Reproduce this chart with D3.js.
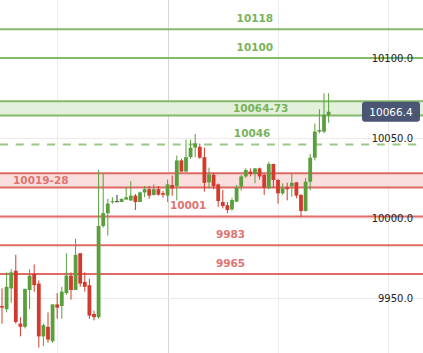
<!DOCTYPE html>
<html>
<head>
<meta charset="utf-8">
<script src="https://cdn.jsdelivr.net/npm/d3@7/dist/d3.min.js"></script>
<style>
  html, body { margin: 0; padding: 0; background: #ffffff; }
  svg { display: block; }
</style>
</head>
<body>
<svg id="chart" width="423" height="353"></svg>
<script>
// ---- OHLC series (one entry per candle, oldest first) ----
const opens  = [9945, 9943, 9956, 9967, 9934, 9932, 9955, 9965, 9959, 9926,
                9932, 9923, 9946, 9945, 9953, 9964, 9955, 9978, 9960, 9958,
                9940, 9938, 9995, 10003, 10010, 10010.5, 10010, 10011.5, 10011, 10014,
                10010, 10016, 10018, 10014.4, 10018, 10015.5, 10014, 10020.6, 10020, 10036,
                10029, 10038, 10044, 10044.5, 10038, 10022.3, 10027, 10021, 10010, 10008,
                10005.4, 10010.2, 10019.6, 10026, 10029, 10027.5, 10031, 10027, 10018.6, 10033.75,
                10023.75, 10015.4, 10019, 10020, 10022.3, 10014.4, 10004.4, 10022.7, 10037.7, 10054,
                10054, 10064.4];
const highs  = [9956, 9966, 9968, 9977, 9938, 9956, 9968, 9971, 9961, 9934,
                9941, 9946, 9953, 9957, 9978, 9966, 9987, 9978, 9966, 9962,
                9942, 10030, 10028, 10012, 10013, 10014.4, 10012, 10019, 10023, 10015,
                10016.5, 10020, 10020, 10021, 10020, 10017, 10024, 10026.5, 10039, 10037,
                10049, 10049, 10052.5, 10046.5, 10044, 10031.5, 10028, 10021.5, 10017.5, 10010,
                10012.7, 10020.6, 10027, 10031, 10031, 10031.2, 10031.5, 10027.5, 10035.2, 10034,
                10024.4, 10021.7, 10022, 10028, 10022.5, 10015, 10025, 10040, 10059, 10068,
                10078, 10078];
const lows   = [9934, 9941, 9947, 9934, 9926, 9931, 9943, 9954, 9919, 9920,
                9922, 9922, 9937, 9937, 9952, 9949, 9955, 9957, 9954, 9937,
                9936, 9937, 9994, 9989, 10009, 10010.3, 10010, 10011.5, 10010.6, 10005,
                10010, 10013, 10012, 10014, 10014, 10012.7, 10010, 10014, 10011, 10029,
                10029, 10037, 10038, 10037, 10016.5, 10018.5, 10018, 10007, 10006, 10003,
                10004.6, 10010, 10017, 10025, 10026, 10021.7, 10024, 10014.4, 10018, 10019,
                10009, 10014.4, 10011, 10013.3, 10012.3, 10000.8, 10004, 10017.5, 10036, 10053,
                10053, 10059.6];
const closes = [9944, 9957, 9966, 9935, 9932, 9955.6, 9964, 9958, 9926, 9933,
                9924, 9946, 9944, 9954, 9964, 9955, 9977, 9959, 9957, 9939,
                9938, 9995, 10003, 10009, 10010.5, 10010.5, 10012, 10013, 10014, 10010,
                10016, 10018, 10014, 10018, 10014.6, 10014.5, 10021, 10018.5, 10036, 10029,
                10038, 10044, 10046.7, 10037.7, 10022, 10027.3, 10020, 10010.6, 10007.5, 10005,
                10011.25, 10019.2, 10026, 10030, 10027.5, 10031, 10026, 10019, 10033.75, 10023.75,
                10015.4, 10018.6, 10018, 10022, 10014, 10004.4, 10022.7, 10037.7, 10054, 10055,
                10064.4, 10066.4];

// ---- price axis ----
const priceTicks = [9950, 10000, 10050, 10100];
const gridCandles = [12, 36, 60, 84];   // candle slots that carry a vertical grid line
const lastPrice = 10066.4;

// ---- key levels (single price when low == high, otherwise a zone) ----
const levelNames = ["10118", "10100", "10064-73", "10046", "10019-28", "10001", "9983", "9965"];
const levelLows  = [10118, 10100, 10064, 10046, 10019, 10001, 9983, 9965];
const levelHighs = [10118, 10100, 10073, 10046, 10028, 10001, 9983, 9965];
const levelSides = ["resistance", "resistance", "resistance", "resistance",
                    "support", "support", "support", "support"];
const tentativeLevels = ["10046"];

// ---- layout ----
const W = 423, H = 353;
const labelAnchor = [51, 51, 50.2, 50.4, 2.4, 36.5, 46.5, 46.5]; // candle slot where each level name starts

const palette = {
  up: "#5b9f3d", down: "#d13a2c", flat: "#333333",
  resLine: "#78b35b", resFill: "#e3f0dc", resText: "#78b35b",
  supLine: "#dd5a55", supFill: "#f8dedd", supText: "#e07470",
  grid: "#ebebeb", gridStrong: "#d6d6d6", axisText: "#222222", tag: "#4a5673"
};

const svg = d3.select("#chart");

const x = d3.scaleLinear().domain([0, opens.length - 1]).range([2, 328.6]);
const y = d3.scaleLinear().domain([9950, 10100]).range([298, 58]);

// grid
const grid = svg.append("g");
grid.selectAll("line.v").data(gridCandles).join("line")
  .attr("class", "v")
  .attr("x1", d => Math.round(x(d)) + 0.5).attr("x2", d => Math.round(x(d)) + 0.5)
  .attr("y1", 0).attr("y2", H)
  .attr("stroke", (d, i) => i === 1 ? palette.gridStrong : palette.grid)
  .attr("stroke-width", 1);
grid.selectAll("line.h").data(priceTicks).join("line")
  .attr("class", "h")
  .attr("x1", 0).attr("x2", W)
  .attr("y1", d => Math.round(y(d)) + 0.5).attr("y2", d => Math.round(y(d)) + 0.5)
  .attr("stroke", palette.grid).attr("stroke-width", 1);

const levels = levelNames.map((name, i) => ({
  name, lo: levelLows[i], hi: levelHighs[i], side: levelSides[i],
  anchor: labelAnchor[i], dashed: tentativeLevels.includes(name)
}));

// zone fills
const levelG = svg.append("g");
levelG.selectAll("rect").data(levels.filter(d => d.hi > d.lo)).join("rect")
  .attr("x", 0).attr("width", W)
  .attr("y", d => y(d.hi)).attr("height", d => y(d.lo) - y(d.hi))
  .attr("fill", d => d.side === "resistance" ? palette.resFill : palette.supFill);

// level edges
const edges = [];
levels.forEach(d => {
  edges.push({ v: d.lo, d });
  if (d.hi > d.lo) edges.push({ v: d.hi, d });
});
levelG.selectAll("line").data(edges).join("line")
  .attr("x1", 0).attr("x2", W)
  .attr("y1", e => y(e.v)).attr("y2", e => y(e.v))
  .attr("stroke", e => e.d.side === "resistance" ? palette.resLine : palette.supLine)
  .attr("stroke-opacity", e => e.d.dashed ? 0.75 : 0.9)
  .attr("stroke-width", 2)
  .attr("stroke-dasharray", e => e.d.dashed ? "8,7.7" : null);

// candles
const candles = opens.map((o, i) => ({ i, o, h: highs[i], l: lows[i], c: closes[i] }));
const colorOf = d => d.c > d.o ? palette.up : d.c < d.o ? palette.down : palette.flat;
const cg = svg.append("g");
cg.selectAll("line").data(candles).join("line")
  .attr("x1", d => x(d.i)).attr("x2", d => x(d.i))
  .attr("y1", d => y(d.h)).attr("y2", d => y(d.l))
  .attr("stroke", colorOf).attr("stroke-width", 1);
cg.selectAll("rect").data(candles).join("rect")
  .attr("x", d => x(d.i) - 1.9).attr("width", 3.8)
  .attr("y", d => y(Math.max(d.o, d.c)))
  .attr("height", d => Math.max(1, Math.abs(y(d.o) - y(d.c))))
  .attr("fill", colorOf);

// level names
svg.append("g").selectAll("text").data(levels).join("text")
  .attr("x", d => x(d.anchor))
  .attr("y", d => d.hi > d.lo ? (y(d.hi) + y(d.lo)) / 2 : y(d.lo) - 7)
  .attr("dominant-baseline", d => d.hi > d.lo ? "central" : "alphabetic")
  .attr("font-family", "DejaVu Sans, sans-serif")
  .attr("font-weight", "bold")
  .attr("font-size", 10.5)
  .attr("fill", d => d.side === "resistance" ? palette.resText : palette.supText)
  .text(d => d.name);

// price axis labels
const axis = d3.axisRight(y).tickValues(priceTicks).tickSize(0).tickFormat(d3.format(".1f"));
const axisG = svg.append("g").attr("transform", "translate(413,0)").call(axis);
axisG.select(".domain").remove();
axisG.selectAll("text")
  .attr("x", 0).attr("dx", 0)
  .attr("text-anchor", "end")
  .attr("font-family", "DejaVu Sans, sans-serif")
  .attr("font-size", 10)
  .attr("fill", palette.axisText);

// last price tag
const tag = svg.append("g").attr("transform", `translate(362,${y(lastPrice) - 10})`);
tag.append("rect").attr("width", 58).attr("height", 20).attr("rx", 3).attr("fill", palette.tag);
tag.append("text").attr("x", 29).attr("y", 10)
  .attr("text-anchor", "middle").attr("dominant-baseline", "central")
  .attr("font-family", "DejaVu Sans, sans-serif").attr("font-size", 10.5)
  .attr("fill", "#ffffff")
  .text(d3.format(".1f")(lastPrice));
</script>
</body>
</html>
